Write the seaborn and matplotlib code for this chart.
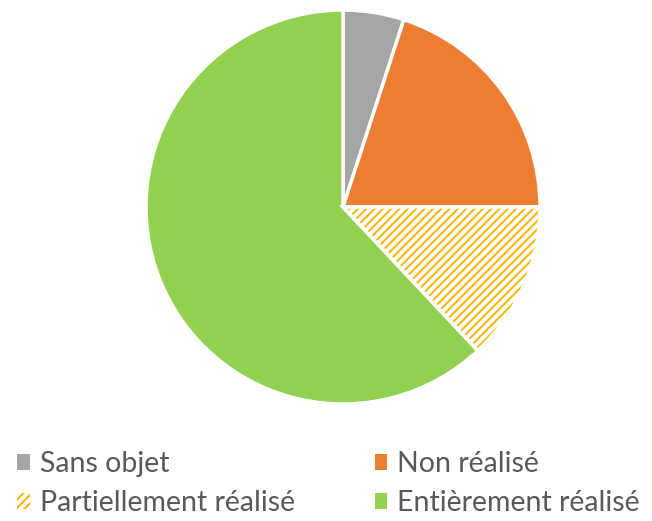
import matplotlib
matplotlib.use("Agg")
import matplotlib.pyplot as plt
import seaborn as sns
from matplotlib.patches import Patch, Wedge

categories = ["Sans objet", "Non réalisé", "Partiellement réalisé", "Entièrement réalisé"]
values = [5, 20, 13, 62]
colors = ["#A5A5A5", "#ED7D31", "#FFFFFF", "#92D050"]
hatch_color = "#F8B810"

sns.set_theme(style="white")
plt.rcParams['font.family'] = ['Lato', 'DejaVu Sans']
plt.rcParams['hatch.linewidth'] = 1.5

fig = plt.figure(figsize=(6.52, 5.21), dpi=100)
ax = fig.add_axes([0.2239, 0.2246, 0.6043, 0.7562])
wedges, _ = ax.pie(values, colors=colors, startangle=90, counterclock=False,
                   wedgeprops=dict(edgecolor="white", linewidth=2.5))
w = wedges[2]
w.set_hatch("////")
w.set_edgecolor(hatch_color)
w.set_linewidth(0)
border = Wedge(w.center, w.r, w.theta1, w.theta2, facecolor="none",
               edgecolor="white", linewidth=2.5)
ax.add_patch(border)
ax.set_xlim(-1, 1)
ax.set_ylim(-1, 1)
ax.set_aspect("equal")
ax.axis("off")

handles = {
    "Sans objet": Patch(facecolor=colors[0], edgecolor="none"),
    "Non réalisé": Patch(facecolor=colors[1], edgecolor="none"),
    "Partiellement réalisé": Patch(facecolor="white", edgecolor=hatch_color, hatch="////", linewidth=0),
    "Entièrement réalisé": Patch(facecolor=colors[3], edgecolor="none"),
}
order = ["Sans objet", "Partiellement réalisé", "Non réalisé", "Entièrement réalisé"]
fig.legend([handles[k] for k in order], order, ncol=2, loc="upper left",
           bbox_to_anchor=(17 / 652, 0.134), frameon=False, fontsize=20.5,
           borderpad=0, borderaxespad=0,
           handlelength=0.45, handleheight=0.45, handletextpad=0.35,
           columnspacing=2.8, labelspacing=0.45, labelcolor="#595959")

fig.savefig("out.png", dpi=100, facecolor="white")
